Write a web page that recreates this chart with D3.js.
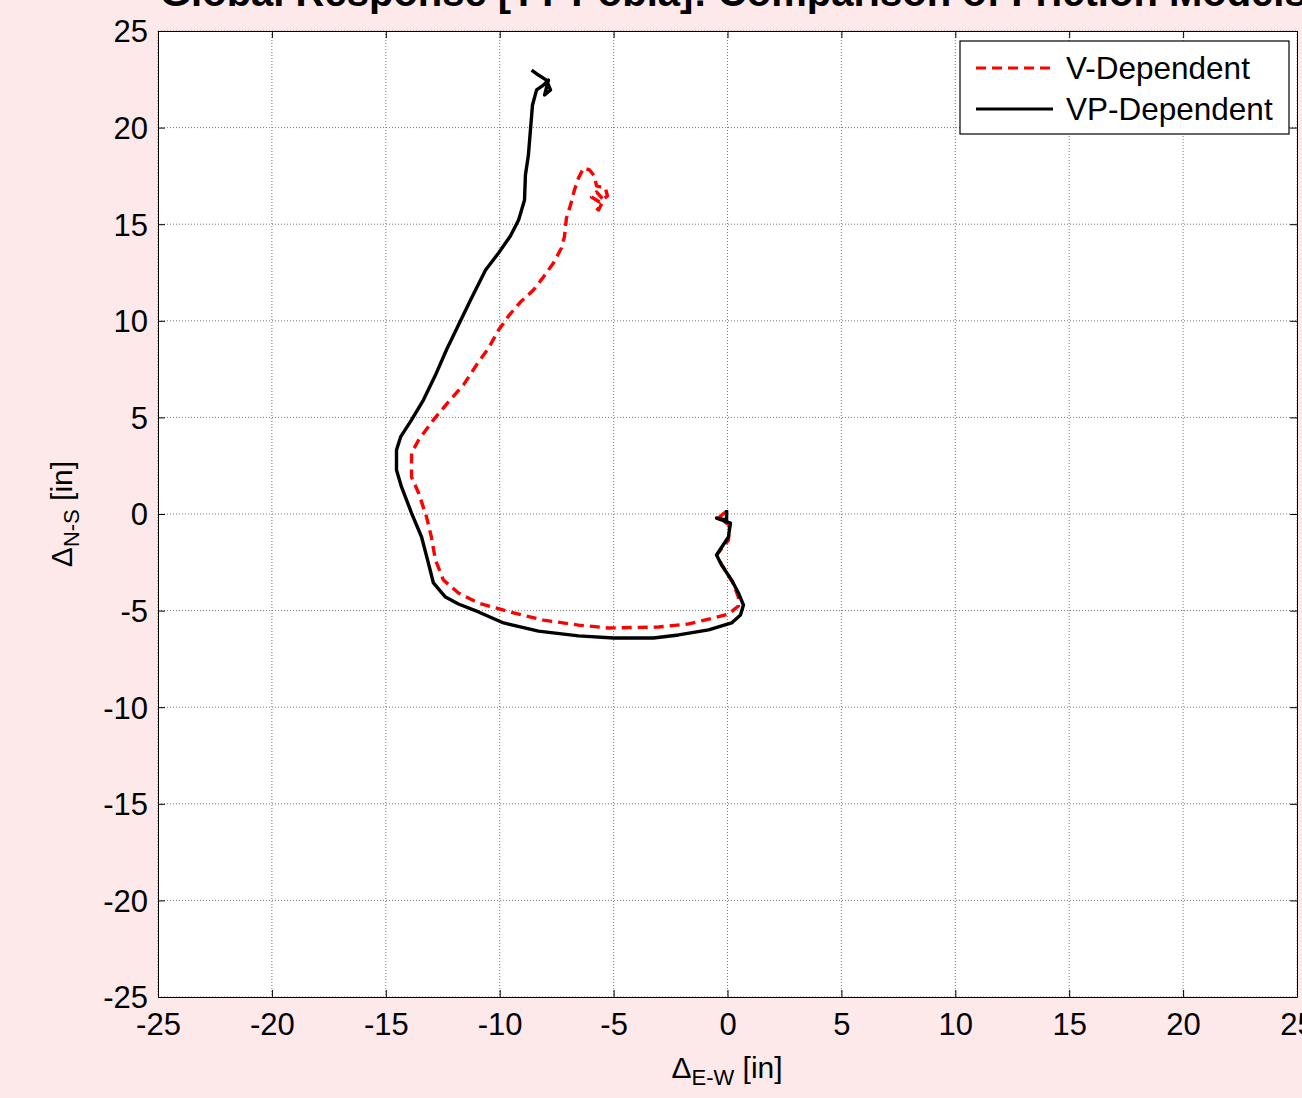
<!DOCTYPE html>
<html>
<head>
<meta charset="utf-8">
<script src="https://cdn.jsdelivr.net/npm/d3@7"></script>
<style>
  html, body { margin:0; padding:0; background:#fde9ea; }
  svg { display:block; }
  text { font-family: 'Liberation Sans', Arial, sans-serif; fill:#000; }
</style>
</head>
<body>
<svg id="chart" width="1302" height="1098"></svg>
<script>
/* ── data ── */
const TICKS = [-25, -20, -15, -10, -5, 0, 5, 10, 15, 20, 25];

// V-Dependent (red dashed): E-W / N-S displacement [in]
const V_EW = [-0.09,-0.40,0.09,0.04,-0.48,-0.22,0.22,0.48,0.48,0.04,-0.61,-1.71,-3.03,-5.22,-6.54,-8.08,-9.39,-10.93,-11.81,-12.47,-12.82,-13.00,-13.21,-13.56,-13.87,-13.87,-13.56,-12.91,-12.25,-11.59,-11.02,-10.49,-10.05,-9.61,-9.09,-8.52,-8.08,-7.64,-7.29,-7.16,-7.07,-6.89,-6.72,-6.54,-6.32,-6.06,-5.84,-5.75,-5.36,-5.27,-5.62,-5.97,-5.75,-5.44,-5.66,-5.93];
const V_NS = [0.10,-0.21,-0.57,-1.35,-2.12,-2.69,-3.52,-4.30,-4.76,-5.18,-5.38,-5.69,-5.85,-5.90,-5.75,-5.49,-5.12,-4.61,-4.09,-3.42,-2.38,-1.19,-0.16,1.09,1.92,3.16,3.83,4.87,5.80,6.68,7.71,8.59,9.52,10.25,10.97,11.59,12.27,12.99,13.77,14.34,15.32,15.99,16.77,17.39,17.91,17.81,17.49,16.98,16.87,16.46,16.15,16.41,16.67,16.25,15.73,16.05];

// VP-Dependent (black solid)
const VP_EW = [-0.04,-0.04,-0.48,0.13,0.04,-0.48,-0.26,0.18,0.48,0.70,0.57,0.18,-0.83,-2.15,-3.25,-5.00,-6.54,-8.30,-9.83,-10.93,-11.81,-12.38,-12.91,-13.13,-13.43,-13.87,-14.31,-14.53,-14.53,-14.35,-13.87,-13.35,-12.82,-12.34,-11.81,-11.28,-10.62,-10.05,-9.53,-9.17,-8.91,-8.87,-8.74,-8.65,-8.56,-8.38,-8.08,-7.86,-8.03,-7.77,-7.95,-8.30,-8.60];
const VP_NS = [0.21,-0.31,-0.21,-0.47,-1.19,-2.12,-2.64,-3.42,-4.09,-4.71,-5.23,-5.64,-6.00,-6.26,-6.42,-6.42,-6.31,-6.06,-5.64,-5.07,-4.66,-4.30,-3.57,-2.54,-1.19,0.05,1.40,2.28,3.31,3.99,4.87,5.90,7.19,8.49,9.78,11.08,12.63,13.51,14.39,15.22,16.25,17.55,18.58,19.88,21.17,21.95,22.20,22.46,21.69,21.95,22.46,22.72,22.98];

const SERIES = [
  { name:'V-Dependent',  ew:V_EW,  ns:V_NS,  color:'#ff0000', dash:'10,6' },
  { name:'VP-Dependent', ew:VP_EW, ns:VP_NS, color:'#000000', dash:null },
];

const svg = d3.select('#chart');
const x = d3.scaleLinear().domain([-25, 25]).range([158, 1297]);
const y = d3.scaleLinear().domain([-25, 25]).range([997, 31]);
const fmt = d => String(d);   // plain hyphen minus, like the reference

// title (mostly cut off at the top)
svg.append('text')
  .attr('x', 160).attr('y', 6)
  .attr('font-size', 40).attr('font-weight', 'bold')
  .text('Global Response [TT Pobla]: Comparison of Friction Models');

// plot area
svg.append('rect')
  .attr('x', x(-25)).attr('y', y(25))
  .attr('width', x(25) - x(-25)).attr('height', y(-25) - y(25))
  .attr('fill', '#fff');

// grid
const grid = svg.append('g').attr('stroke', '#777').attr('stroke-width', 1).attr('stroke-dasharray', '1,2');
grid.selectAll('.gx').data(TICKS).join('line')
  .attr('x1', d => x(d)).attr('x2', d => x(d))
  .attr('y1', y(25)).attr('y2', y(-25));
grid.selectAll('.gy').data(TICKS).join('line')
  .attr('y1', d => y(d)).attr('y2', d => y(d))
  .attr('x1', x(-25)).attr('x2', x(25));

// axes with inward ticks
const tl = 7;
const gB = svg.append('g').attr('transform', `translate(0,${y(-25)})`)
  .call(d3.axisBottom(x).tickValues(TICKS).tickFormat(fmt).tickSizeInner(-tl).tickSizeOuter(0).tickPadding(16));
const gT = svg.append('g').attr('transform', `translate(0,${y(25)})`)
  .call(d3.axisTop(x).tickValues(TICKS).tickSizeInner(-tl).tickSizeOuter(0).tickFormat(''));
const gL = svg.append('g').attr('transform', `translate(${x(-25)},0)`)
  .call(d3.axisLeft(y).tickValues(TICKS).tickFormat(fmt).tickSizeInner(-tl).tickSizeOuter(0).tickPadding(10));
const gR = svg.append('g').attr('transform', `translate(${x(25)},0)`)
  .call(d3.axisRight(y).tickValues(TICKS).tickSizeInner(-tl).tickSizeOuter(0).tickFormat(''));
[gB, gT, gL, gR].forEach(g => {
  g.select('.domain').attr('stroke', '#000');
  g.selectAll('.tick line').attr('stroke', '#000');
  g.selectAll('.tick text')
    .attr('font-family', "'Liberation Sans', Arial, sans-serif")
    .attr('font-size', 31).attr('fill', '#000');
});
gB.selectAll('.tick text').attr('dy', '0.71em');
gL.selectAll('.tick text').attr('dy', '0.35em');

// paths
const line = d3.line().x(d => x(d[0])).y(d => y(d[1]));
SERIES.forEach(s => {
  const pts = s.ew.map((v, i) => [v, s.ns[i]]);
  svg.append('path')
    .datum(pts)
    .attr('d', line)
    .attr('fill', 'none')
    .attr('stroke', s.color)
    .attr('stroke-width', 3.4)
    .attr('stroke-linejoin', 'round')
    .attr('stroke-dasharray', s.dash);
});

// axis labels
const xl = svg.append('text')
  .attr('x', 727).attr('y', 1078)
  .attr('text-anchor', 'middle').attr('font-size', 30);
xl.append('tspan').text('Δ');
xl.append('tspan').attr('font-size', 22).attr('baseline-shift', '-30%').text('E-W');
xl.append('tspan').text(' [in]');

const yl = svg.append('text')
  .attr('transform', `translate(72,514) rotate(-90)`)
  .attr('text-anchor', 'middle').attr('font-size', 30);
yl.append('tspan').text('Δ');
yl.append('tspan').attr('font-size', 22).attr('baseline-shift', '-30%').text('N-S');
yl.append('tspan').text(' [in]');

// legend
const lg = svg.append('g');
lg.append('rect')
  .attr('x', 960).attr('y', 41).attr('width', 329).attr('height', 93)
  .attr('fill', '#fff').attr('stroke', '#000').attr('stroke-width', 1.2);
SERIES.forEach((s, i) => {
  const yy = 68 + i * 41;
  lg.append('line')
    .attr('x1', 976).attr('x2', 1053).attr('y1', yy).attr('y2', yy)
    .attr('stroke', s.color).attr('stroke-width', 3.2)
    .attr('stroke-dasharray', s.dash);
  lg.append('text')
    .attr('x', 1066).attr('y', yy + 11)
    .attr('font-size', 31.5)
    .text(s.name);
});
</script>
</body>
</html>
